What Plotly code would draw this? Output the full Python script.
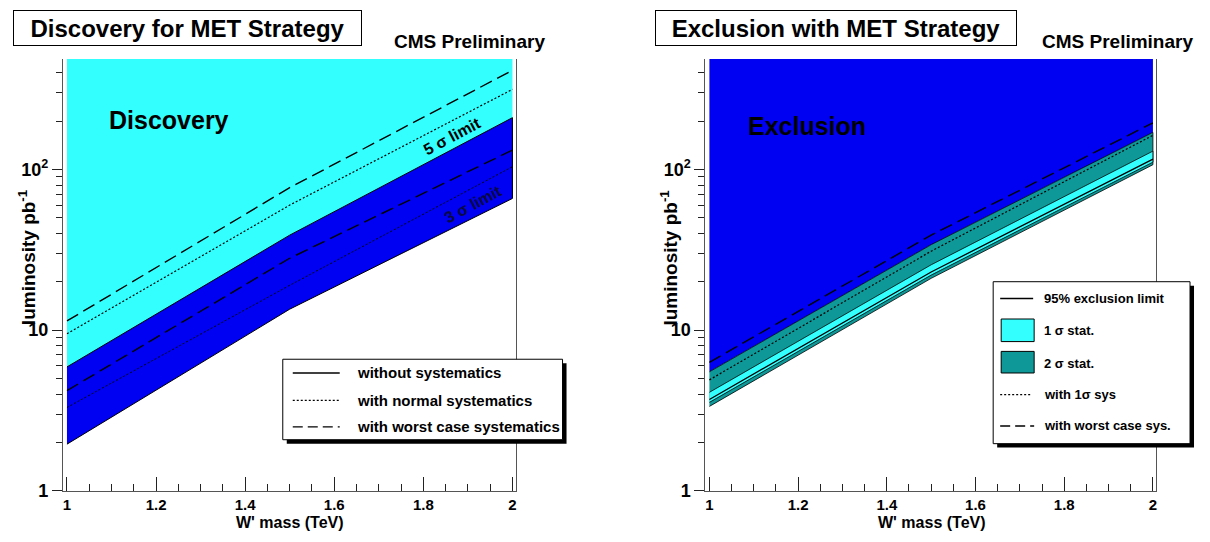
import numpy as np
import plotly.graph_objects as go

W, H = 1210, 542
FONT = "Liberation Sans, Arial, Helvetica, sans-serif"

# ---------------- data ----------------
mass = [1.0, 1.5, 2.0]  # W' mass (TeV)

# Discovery (left panel), luminosity in pb^-1
disc5_nosys = [5.9, 39, 210]
disc5_normsys = [9.5, 60, 315]
disc5_worst = [11.4, 77, 414]
disc3_nosys = [1.95, 13.5, 66]
disc3_normsys = [3.3, 19, 104]
disc3_worst = [4.2, 28, 132]

# Exclusion (right panel)
excl_limit = [3.7, 23, 116]
excl_1sig_up = [4.1, 25.5, 130]
excl_1sig_low = [3.55, 22, 111]
excl_2sig_up = [5.5, 34, 170]
excl_2sig_low = [3.35, 21, 107]
excl_sys1 = [4.9, 31, 163]
excl_worst = [6.3, 39, 195]

x_tickvals = [1, 1.2, 1.4, 1.6, 1.8, 2]
x_ticktext = ["1", "1.2", "1.4", "1.6", "1.8", "2"]
y_tickvals = [1, 10, 100]
y_ticktext = ["1", "10", "10<sup>2</sup>"]

Y_CEIL = 1000  # fill ceiling, above the visible range

CYAN = "#33FFFF"
BLUE = "#0000F2"
TEAL = "#0E9898"
DOT = "2px,2px"
DASH = "13px,6px"


def px(x):
    return x / W


def py(y):
    return 1 - y / H


def band(x, lo, hi):
    return list(x) + list(x)[::-1], list(lo) + list(hi)[::-1]


fig = go.Figure()

# ---------------- left panel ----------------
bx, by = band(mass, disc5_nosys, [Y_CEIL] * len(mass))
fig.add_trace(go.Scatter(x=bx, y=by, fill="toself", fillcolor=CYAN, mode="lines",
                         line=dict(width=0), xaxis="x", yaxis="y", showlegend=False, hoverinfo="skip"))
bx, by = band(mass, disc3_nosys, disc5_nosys)
fig.add_trace(go.Scatter(x=bx, y=by, fill="toself", fillcolor=BLUE, mode="lines",
                         line=dict(width=1, color="black"), xaxis="x", yaxis="y", showlegend=False, hoverinfo="skip"))
for ys, dash, w in [(disc5_worst, DASH, 1.4), (disc5_normsys, DOT, 1.2),
                    (disc3_worst, DASH, 1.4), (disc3_normsys, DOT, 1.0)]:
    fig.add_trace(go.Scatter(x=mass, y=ys, mode="lines", line=dict(color="black", width=w, dash=dash),
                             xaxis="x", yaxis="y", showlegend=False))

# ---------------- right panel ----------------
bx, by = band(mass, excl_2sig_up, [Y_CEIL] * len(mass))
fig.add_trace(go.Scatter(x=bx, y=by, fill="toself", fillcolor=BLUE, mode="lines",
                         line=dict(width=0), xaxis="x2", yaxis="y2", showlegend=False, hoverinfo="skip"))
bx, by = band(mass, excl_2sig_low, excl_2sig_up)
fig.add_trace(go.Scatter(x=bx, y=by, fill="toself", fillcolor=TEAL, mode="lines",
                         line=dict(width=0.8, color="black"), xaxis="x2", yaxis="y2", showlegend=False, hoverinfo="skip"))
bx, by = band(mass, excl_1sig_low, excl_1sig_up)
fig.add_trace(go.Scatter(x=bx, y=by, fill="toself", fillcolor=CYAN, mode="lines",
                         line=dict(width=0.8, color="black"), xaxis="x2", yaxis="y2", showlegend=False, hoverinfo="skip"))
fig.add_trace(go.Scatter(x=mass, y=excl_limit, mode="lines", line=dict(color="black", width=1.3),
                         xaxis="x2", yaxis="y2", showlegend=False))
fig.add_trace(go.Scatter(x=mass, y=excl_sys1, mode="lines", line=dict(color="black", width=1.2, dash=DOT),
                         xaxis="x2", yaxis="y2", showlegend=False))
fig.add_trace(go.Scatter(x=mass, y=excl_worst, mode="lines", line=dict(color="black", width=1.4, dash=DASH),
                         xaxis="x2", yaxis="y2", showlegend=False))

# ---------------- axes ----------------
minor_x = [round(v, 2) for v in np.arange(1.0, 2.0001, 0.05)]
minor_y = [d * 10 ** e for e in range(0, 3) for d in range(2, 10) if d * 10 ** e < 500]

common_x = dict(range=[0.991, 2.007], showline=True, linecolor="#555", linewidth=1,
                ticks="inside", ticklen=14, tickcolor="#222", tickvals=x_tickvals, ticktext=x_ticktext,
                tickfont=dict(family=FONT, size=15, color="black", weight="bold"),
                minor=dict(ticks="inside", ticklen=7, tickcolor="#222", tickvals=minor_x),
                showgrid=False, zeroline=False, fixedrange=True)
common_y = dict(type="log", range=[0, 2.688], showline=True, linecolor="#555", linewidth=1, mirror=True,
                ticks="outside", ticklen=10, tickcolor="#222", tickvals=y_tickvals, ticktext=y_ticktext,
                tickfont=dict(family=FONT, size=18, color="black", weight="bold"),
                minor=dict(ticks="outside", ticklen=6, tickcolor="#222", tickvals=minor_y),
                showgrid=False, zeroline=False, fixedrange=True)

ydom = [py(500), py(60)]
fig.update_layout(
    width=W, height=H, margin=dict(l=0, r=0, t=0, b=0),
    paper_bgcolor="white", plot_bgcolor="white",
    font=dict(family=FONT, color="black"),
    xaxis=dict(domain=[px(63), px(516)], anchor="y", **common_x),
    yaxis=dict(domain=ydom, anchor="x", **common_y),
    xaxis2=dict(domain=[px(706), px(1157)], anchor="y2", **common_x),
    yaxis2=dict(domain=ydom, anchor="x2", **common_y),
)

ann = []
shapes = []


def text(x, y, s, size, xanchor="center", angle=0, color="black", yanchor="middle", **kw):
    ann.append(dict(x=x, y=y, xref="paper", yref="paper", text=s, showarrow=False,
                    xanchor=xanchor, yanchor=yanchor, textangle=angle,
                    font=dict(family=FONT, size=size, color=color), **kw))


# panel titles (boxed)
for cx, w, s in [(188, 347, "Discovery for MET Strategy"), (837, 360, "Exclusion with MET Strategy")]:
    text(px(cx), py(29), "<b>%s</b>" % s, 24, bordercolor="black", borderwidth=1, borderpad=0,
         bgcolor="white", width=w, height=34)
text(px(470), py(42), "<b>CMS Preliminary</b>", 19)
text(px(1118), py(42), "<b>CMS Preliminary</b>", 19)

# in-plot labels
text(px(169), py(122), "<b>Discovery</b>", 25)
text(px(808), py(128), "<b>Exclusion</b>", 25)
text(px(452), py(139), "<b>5 σ limit</b>", 16, angle=-28)
text(px(473), py(208), "<b>3 σ limit</b>", 16, angle=-28, color="#0a0a40")

# axis titles
for cx in (290, 933):
    text(px(cx), 0, "<b>W' mass (TeV)</b>", 16, yanchor="bottom", borderpad=0)
for cx in (27, 670):
    text(px(cx), py(262), "<b>luminosity pb<sup>-1</sup></b>", 19, angle=-90)


def rect(x0, y0, x1, y1, fill, line="black", lw=1):
    shapes.append(dict(type="rect", xref="paper", yref="paper", x0=px(x0), x1=px(x1), y0=py(y1), y1=py(y0),
                       fillcolor=fill, line=dict(color=line, width=lw), layer="above"))


def hline(x0, x1, y, dash="solid", lw=1.5):
    shapes.append(dict(type="line", xref="paper", yref="paper", x0=px(x0), x1=px(x1), y0=py(y), y1=py(y),
                       line=dict(color="black", width=lw, dash=dash), layer="above"))


# left legend
rect(287, 370, 567, 452, "black", lw=0)
rect(283, 366, 563, 448, "white")
for y, dash, lab in [(380, "solid", "without systematics"), (408, DOT, "with normal systematics"),
                     (435, "10px,5px", "with worst case systematics")]:
    hline(293, 340, y, dash, 1.6 if dash == "solid" else 1.3)
    text(px(355), py(y), "<b>%s</b>" % lab, 15, xanchor="left")

# right legend
rect(998, 291, 1195, 456, "black", lw=0)
rect(994, 287, 1191, 452, "white")
hline(1001, 1034, 304, "solid", 1.5)
text(px(1043), py(304), "<b>95% exclusion limit</b>", 13, xanchor="left")
rect(1002, 325, 1035, 348, CYAN)
text(px(1043), py(337), "<b>1 σ stat.</b>", 13, xanchor="left")
rect(1002, 358, 1035, 380, TEAL)
text(px(1043), py(370), "<b>2 σ stat.</b>", 13, xanchor="left")
hline(1001, 1033, 402, DOT, 1.2)
text(px(1043), py(402), "<b>with 1σ sys</b>", 13, xanchor="left")
hline(1001, 1035, 434, "10px,5px", 1.4)
text(px(1043), py(434), "<b>with worst case sys.</b>", 13, xanchor="left")

fig.update_layout(annotations=ann, shapes=shapes)
fig.write_html("out.html")
